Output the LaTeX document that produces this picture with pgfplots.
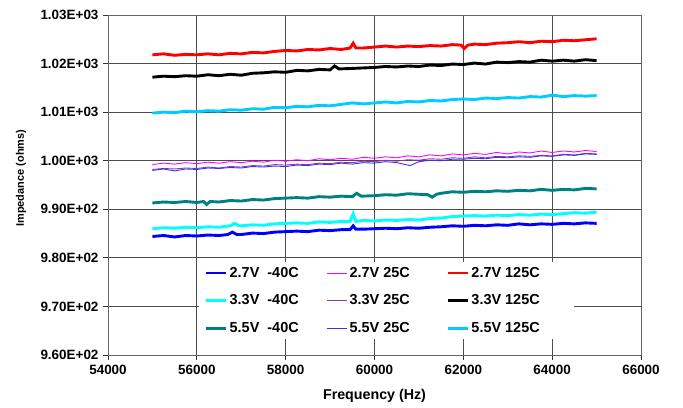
\documentclass[border=0pt]{standalone}
\usepackage{fontspec}
\setmainfont{Liberation Sans}
\usepackage{pgfplots}
\pgfplotsset{compat=1.18}
\definecolor{cBlueA}{HTML}{0000FF}
\definecolor{cCyanA}{HTML}{00FFFF}
\definecolor{cTeal}{HTML}{008080}
\definecolor{cMag}{HTML}{FF00FF}
\definecolor{cPurp}{HTML}{993399}
\definecolor{cBlueB}{HTML}{3333FF}
\definecolor{cRed}{HTML}{FF0000}
\definecolor{cCyanC}{HTML}{00CCFF}
\begin{document}
\begin{tikzpicture}
\useasboundingbox (-108bp,-53bp) rectangle (575bp,355bp);
\begin{axis}[
  scale only axis, width=533bp, height=340bp,
  at={(0,0)}, anchor=south west,
  xmin=54000, xmax=66000, ymin=960, ymax=1030,
  xtick={54000,56000,58000,60000,62000,64000,66000},
  xticklabels={54000,56000,58000,60000,62000,64000,66000},
  ytick={960,970,980,990,1000,1010,1020,1030},
  yticklabels={9.60E+02,9.70E+02,9.80E+02,9.90E+02,1.00E+03,1.01E+03,1.02E+03,1.03E+03},
  scaled x ticks=false,
  grid=major,
  grid style={black!70, line width=0.8bp},
  axis line style={black!60, line width=0.9bp},
  tick align=outside, major tick length=5bp,
  xtick pos=bottom, ytick pos=left,
  tick style={black!80, line width=0.8bp},
  ticklabel style={font=\fontsize{13.5}{15}\selectfont\bfseries},
  yticklabel style={xshift=-1bp},
  xticklabel style={yshift=-2bp},
  xlabel={Frequency (Hz)},
  ylabel={Impedance (ohms)},
  every axis x label/.style={at={(axis description cs:0.5,-0.1206)}, anchor=center, font=\fontsize{14.3}{16}\selectfont\bfseries},
  every axis y label/.style={at={(axis description cs:-0.1632,0.52)}, rotate=90, anchor=center, font=\fontsize{11}{13}\selectfont\bfseries},
  legend columns=3,
  legend style={at={(0.170,0.2735)}, anchor=north west, draw=none, fill=white,
    font=\fontsize{14.5}{16}\selectfont\bfseries, inner xsep=6bp, inner ysep=3bp,
    row sep=12bp},
  legend cell align=left,
  legend image code/.code={\draw[#1] (0bp,0bp) -- (20bp,0bp);},
]
% 2.7V -40C
\addplot[cBlueA, line width=2.9bp] coordinates {
(55000,984.4)(55250,984.6)(55500,984.3)(55750,984.6)(56000,984.5)(56250,984.7)(56500,984.6)(56700,984.8)(56800,985.3)(56900,984.8)(57000,984.8)(57250,985.1)(57500,985.0)(57750,985.3)(58000,985.4)(58250,985.5)(58500,985.4)(58750,985.7)(59000,985.6)(59250,985.8)(59450,985.8)(59520,986.6)(59580,985.9)(59750,985.9)(60000,986.0)(60250,986.1)(60500,986.0)(60750,986.2)(61000,986.1)(61250,986.3)(61500,986.4)(61750,986.6)(62000,986.5)(62250,986.7)(62500,986.6)(62750,986.8)(63000,986.7)(63250,987.0)(63500,986.8)(63750,987.0)(64000,986.9)(64250,987.1)(64500,987.0)(64750,987.2)(65000,987.1)};
\addlegendentry{\makebox[95bp][l]{2.7V\ \ -40C}}
% 2.7V 25C
\addplot[cMag, line width=0.9bp] coordinates {
(55000,999.2)(55250,999.5)(55500,999.3)(55750,999.6)(56000,999.4)(56250,999.7)(56500,999.5)(56750,999.8)(57000,999.6)(57250,999.9)(57500,999.7)(57750,1000.1)(58000,999.9)(58250,1000.2)(58500,1000.0)(58750,1000.4)(59000,1000.2)(59250,1000.5)(59500,1000.3)(59750,1000.7)(60000,1000.5)(60250,1000.8)(60500,1000.6)(60750,1001.0)(61000,1000.8)(61250,1001.2)(61500,1001.0)(61750,1001.4)(62000,1001.2)(62250,1001.5)(62500,1001.3)(62750,1001.7)(63000,1001.4)(63250,1001.8)(63500,1001.6)(63750,1002.0)(64000,1001.7)(64250,1002.0)(64500,1001.8)(64750,1002.1)(65000,1001.9)};
\addlegendentry{\makebox[95bp][l]{2.7V 25C}}
% 2.7V 125C
\addplot[cRed, line width=2.9bp] coordinates {
(55000,1021.8)(55250,1022.0)(55500,1021.7)(55750,1021.9)(56000,1021.8)(56250,1022.0)(56500,1021.8)(56750,1022.1)(57000,1022.0)(57250,1022.3)(57500,1022.2)(57750,1022.5)(58000,1022.7)(58250,1022.6)(58500,1022.9)(58750,1022.8)(59000,1023.1)(59250,1022.9)(59450,1023.2)(59520,1024.2)(59580,1023.2)(59750,1023.2)(60000,1023.4)(60250,1023.6)(60500,1023.4)(60750,1023.6)(61000,1023.5)(61250,1023.7)(61500,1023.6)(61750,1023.9)(61950,1023.8)(62020,1023.1)(62100,1023.8)(62250,1024.0)(62500,1023.9)(62750,1024.2)(63000,1024.3)(63250,1024.5)(63500,1024.3)(63750,1024.6)(64000,1024.5)(64250,1024.8)(64500,1024.7)(64750,1024.9)(65000,1025.1)};
\addlegendentry{\makebox[95bp][l]{2.7V 125C}}
% 3.3V -40C
\addplot[cCyanA, line width=2.9bp] coordinates {
(55000,986.0)(55250,986.2)(55500,986.1)(55750,986.3)(56000,986.2)(56250,986.4)(56500,986.3)(56750,986.6)(56850,987.1)(56950,986.6)(57000,986.6)(57250,986.8)(57500,986.7)(57750,987.0)(58000,987.1)(58250,987.2)(58500,987.1)(58750,987.4)(59000,987.3)(59250,987.5)(59450,987.5)(59520,989.1)(59580,987.5)(59750,987.7)(60000,987.6)(60250,987.8)(60500,987.7)(60750,987.9)(61000,987.8)(61250,988.1)(61500,988.2)(61750,988.5)(62000,988.6)(62250,988.7)(62500,988.6)(62750,988.8)(63000,988.7)(63250,988.9)(63500,988.8)(63750,989.0)(64000,988.9)(64250,989.1)(64500,989.3)(64750,989.2)(65000,989.4)};
\addlegendentry{\makebox[95bp][l]{3.3V\ \ -40C}}
% 3.3V 25C
\addplot[cPurp, line width=0.9bp] coordinates {
(55000,998.2)(55250,998.4)(55500,998.3)(55750,998.5)(56000,998.4)(56250,998.7)(56500,998.5)(56750,998.8)(57000,998.7)(57250,999.0)(57500,998.9)(57750,999.2)(58000,999.1)(58250,999.3)(58500,999.2)(58750,999.5)(59000,999.4)(59250,999.7)(59500,999.6)(59750,999.9)(60000,999.8)(60250,1000.1)(60500,999.9)(60750,1000.2)(61000,1000.1)(61250,1000.4)(61500,1000.3)(61750,1000.6)(62000,1000.5)(62250,1000.8)(62500,1000.6)(62750,1000.9)(63000,1000.8)(63250,1001.0)(63500,1000.9)(63750,1001.1)(64000,1001.0)(64250,1001.3)(64500,1001.2)(64750,1001.5)(65000,1001.4)};
\addlegendentry{\makebox[95bp][l]{3.3V 25C}}
% 3.3V 125C
\addplot[black, line width=2.9bp] coordinates {
(55000,1017.2)(55250,1017.4)(55500,1017.3)(55750,1017.5)(56000,1017.4)(56250,1017.7)(56500,1017.5)(56750,1017.8)(57000,1017.6)(57250,1018.0)(57500,1018.1)(57750,1018.3)(58000,1018.2)(58250,1018.6)(58500,1018.5)(58750,1018.8)(59000,1018.7)(59100,1019.5)(59200,1018.9)(59500,1019.0)(59750,1019.1)(60000,1019.2)(60250,1019.4)(60500,1019.3)(60750,1019.5)(61000,1019.4)(61250,1019.7)(61500,1019.6)(61750,1019.9)(62000,1019.8)(62250,1020.1)(62500,1019.9)(62750,1020.3)(63000,1020.2)(63250,1020.4)(63500,1020.3)(63750,1020.7)(64000,1020.5)(64250,1020.7)(64500,1020.5)(64750,1020.8)(65000,1020.6)};
\addlegendentry{\makebox[95bp][l]{3.3V 125C}}
% 5.5V -40C
\addplot[cTeal, line width=2.9bp] coordinates {
(55000,991.3)(55250,991.5)(55500,991.4)(55750,991.6)(56000,991.4)(56150,991.6)(56220,991.0)(56300,991.6)(56500,991.5)(56750,991.8)(57000,991.7)(57250,992.0)(57500,991.9)(57750,992.2)(58000,992.3)(58250,992.4)(58500,992.3)(58750,992.6)(59000,992.5)(59250,992.7)(59500,992.6)(59600,993.3)(59700,992.7)(60000,992.8)(60250,993.0)(60500,992.9)(60750,993.2)(61200,993.0)(61300,992.5)(61400,993.1)(61500,993.3)(61750,993.6)(62000,993.5)(62250,993.7)(62500,993.6)(62750,993.8)(63000,993.7)(63250,993.9)(63500,993.8)(63750,994.1)(64000,993.9)(64250,994.1)(64500,994.0)(64750,994.3)(65000,994.2)};
\addlegendentry{\makebox[95bp][l]{5.5V\ \ -40C}}
% 5.5V 25C
\addplot[cBlueB, line width=0.9bp] coordinates {
(55000,998.0)(55250,998.3)(55500,997.9)(55750,998.3)(56000,998.2)(56250,998.5)(56500,998.4)(56750,998.6)(57000,998.5)(57250,998.8)(57500,998.7)(57750,998.9)(58000,998.8)(58250,999.1)(58500,999.0)(58750,999.3)(59000,999.2)(59250,999.5)(59500,999.3)(59750,999.6)(60000,999.5)(60250,999.8)(60500,999.6)(60800,999.0)(61000,999.8)(61250,1000.1)(61500,1000.0)(61750,1000.3)(62000,1000.3)(62250,1000.5)(62500,1000.4)(62750,1000.7)(63000,1000.6)(63250,1000.8)(63500,1000.7)(63750,1001.0)(64000,1000.9)(64250,1001.2)(64500,1001.1)(64750,1001.4)(65000,1001.3)};
\addlegendentry{\makebox[95bp][l]{5.5V 25C}}
% 5.5V 125C
\addplot[cCyanC, line width=2.9bp] coordinates {
(55000,1009.8)(55250,1010.0)(55500,1009.9)(55750,1010.2)(56000,1010.1)(56250,1010.3)(56500,1010.2)(56750,1010.5)(57000,1010.4)(57250,1010.7)(57500,1010.6)(57750,1011.0)(58000,1010.9)(58250,1011.2)(58500,1011.1)(58750,1011.4)(59000,1011.3)(59250,1011.6)(59500,1011.9)(59750,1011.7)(60000,1011.9)(60250,1012.1)(60500,1011.9)(60750,1012.2)(61000,1012.1)(61250,1012.4)(61500,1012.3)(61750,1012.6)(62000,1012.7)(62250,1012.6)(62500,1012.9)(62750,1012.8)(63000,1013.0)(63250,1012.9)(63500,1013.2)(63750,1013.1)(64000,1013.5)(64250,1013.2)(64500,1013.4)(64750,1013.3)(65000,1013.4)};
\addlegendentry{\makebox[95bp][l]{5.5V 125C}}
\end{axis}
\end{tikzpicture}
\end{document}
